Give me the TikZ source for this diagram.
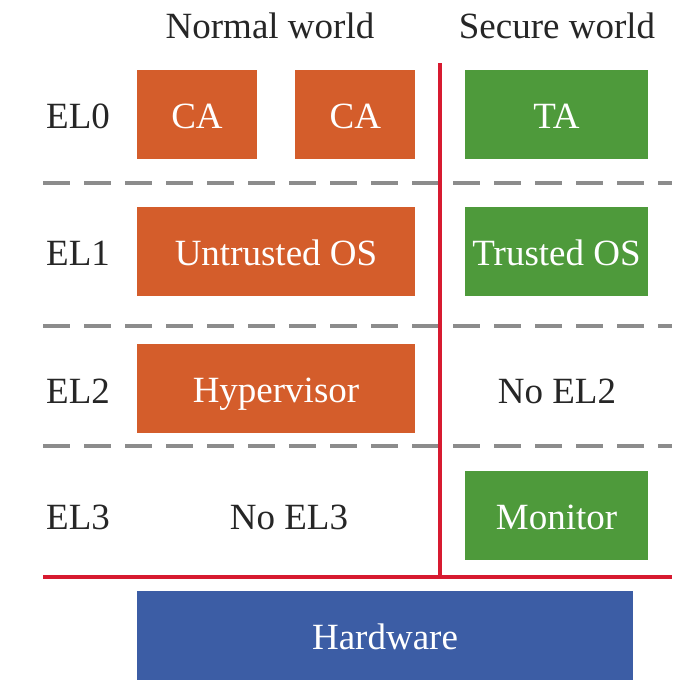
\documentclass[tikz,border=0pt]{standalone}
\usepackage{fontspec}
\setmainfont{Liberation Serif}
\usepackage{xcolor}
\usetikzlibrary{positioning}
\definecolor{normalOrange}{HTML}{D45D2B}
\definecolor{secureGreen}{HTML}{4E9A3B}
\definecolor{hwBlue}{HTML}{3C5DA5}
\definecolor{lineRed}{HTML}{D71A30}
\definecolor{dashGray}{HTML}{8C8C8C}
\definecolor{textDark}{HTML}{262626}
\tikzstyle{block} = [rectangle, inner sep=0pt, minimum height=89pt, text height=27.5pt, text depth=0pt, text centered, text=white]
\tikzstyle{normalbox} = [block, fill=normalOrange, minimum width=278pt]
\tikzstyle{securebox} = [block, fill=secureGreen, minimum width=183pt]
\tikzstyle{hwbox} = [block, fill=hwBlue, minimum width=496pt]
\tikzstyle{level} = [inner sep=0pt, text height=24.5pt, text depth=0pt, text=textDark]
\tikzstyle{divider} = [dashGray, line width=4pt, dash pattern=on 27pt off 14pt]
\tikzstyle{boundary} = [lineRed, line width=4pt]

\begin{document}
\begin{tikzpicture}[x=1pt, y=-1pt, font=\fontsize{37}{44}\selectfont]

\useasboundingbox (0,0) rectangle (690,694);

% world titles
\node (normal) [level] at (270,26) {Normal world};
\node (secure) [level] at (557,26) {Secure world};

% exception levels
\node (el0) [level] at (78,116) {EL0};
\node (el1) [level] at (78,253.5) {EL1};
\node (el2) [level] at (78,391) {EL2};
\node (el3) [level] at (78,517) {EL3};

% level separators
\coordinate (sepL0) at (43,183);
\coordinate (sepR0) at (672,183);
\coordinate (sepL1) at (43,326);
\coordinate (sepR1) at (672,326);
\coordinate (sepL2) at (43,446);
\coordinate (sepR2) at (672,446);
\draw [divider] (sepL0) -- (sepR0);
\draw [divider] (sepL1) -- (sepR1);
\draw [divider] (sepL2) -- (sepR2);

% normal world
\node (ca1) [normalbox, minimum width=120pt] at (197,114.5) {CA};
\node (ca2) [normalbox, minimum width=120pt, right=38pt of ca1] {CA};
\node (untrusted) [normalbox] at (276,251.5) {Untrusted OS};
\node (hyp) [normalbox] at (276,388.5) {Hypervisor};
\node (noel3) [level] at (289,517) {No EL3};

% secure world
\node (ta) [securebox] at (556.5,114.5) {TA};
\node (trusted) [securebox, below=48pt of ta] {Trusted OS};
\node (noel2) [level] at (557,391) {No EL2};
\node (monitor) [securebox] at (556.5,515.5) {Monitor};

% hardware
\node (hw) [hwbox] at (385,635.5) {Hardware};

% world boundaries
\coordinate (wallTop) at (440,63);
\coordinate (wallBot) at (440,577);
\coordinate (floorL) at (43,577);
\coordinate (floorR) at (672,577);
\draw [boundary] (wallTop) -- (wallBot);
\draw [boundary] (floorL) -- (floorR);

\end{tikzpicture}
\end{document}
